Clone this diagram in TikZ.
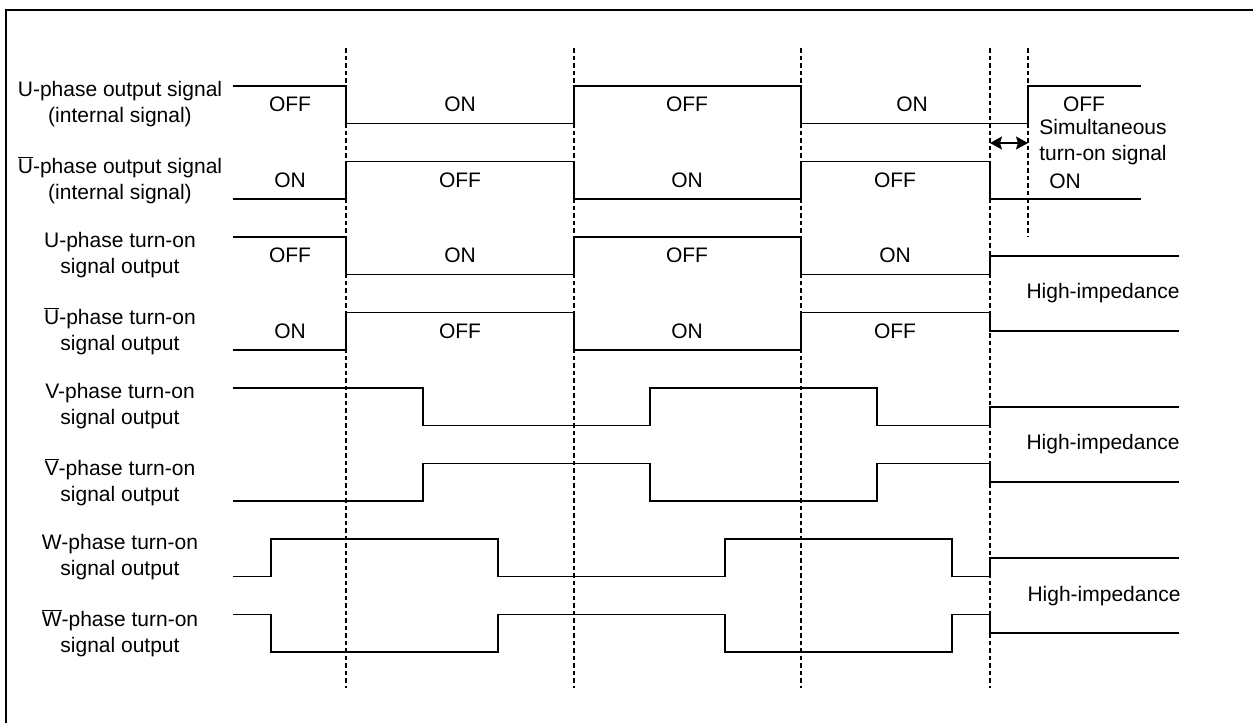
\documentclass[tikz,border=0pt]{standalone}
\usepackage{fontspec}
\setmainfont{Liberation Sans}
\usetikzlibrary{arrows.meta}
\newcommand\ovbar[1]{$\overline{\mbox{#1}}$}
\begin{document}
\begin{tikzpicture}[x=1pt,y=-1pt,
  wave/.style={line width=1.7pt,line join=miter},
  guide/.style={line width=1.1pt,dash pattern=on 4.5pt off 3pt},
  frameline/.style={line width=2pt},
  lbl/.style={font=\fontsize{21}{26}\selectfont,align=center,inner sep=0pt},
  st/.style={font=\fontsize{21}{26}\selectfont,inner sep=0pt},
  dblarrow/.style={line width=1.3pt,{Stealth[length=12pt,width=13pt,inset=2pt]}-{Stealth[length=12pt,width=13pt,inset=2pt]}}]
\useasboundingbox (0,0) rectangle (1253,723);
% frame (only top and left edges are visible)
\draw[frameline] (6,723) -- (6,10) -- (1253,10);
% guide lines
\foreach \x in {346,574,801,990} \draw[guide] (\x,48) -- (\x,688);
\coordinate (g5t) at (1028,48);
\coordinate (g5b) at (1028,237);
\draw[guide] (g5t) -- (g5b);
% waveforms
\draw[wave] (233,86) -- (346,86) -- (346,123.5) -- (574,123.5) -- (574,86) -- (801,86) -- (801,123.5) -- (1028,123.5) -- (1028,86) -- (1141,86);
\draw[wave] (233,199) -- (346,199) -- (346,161.5) -- (574,161.5) -- (574,199) -- (801,199) -- (801,161.5) -- (990,161.5) -- (990,199) -- (1141,199);
\draw[wave] (233,237) -- (346,237) -- (346,274.5) -- (574,274.5) -- (574,237) -- (801,237) -- (801,274.5) -- (990,274.5) -- (990,256) -- (1179,256);
\draw[wave] (233,350) -- (346,350) -- (346,312.5) -- (574,312.5) -- (574,350) -- (801,350) -- (801,312.5) -- (990,312.5) -- (990,331) -- (1179,331);
\draw[wave] (233,388) -- (423,388) -- (423,425.5) -- (650,425.5) -- (650,388) -- (877,388) -- (877,425.5) -- (990,425.5) -- (990,407) -- (1179,407);
\draw[wave] (233,501) -- (423,501) -- (423,463.5) -- (650,463.5) -- (650,501) -- (877,501) -- (877,463.5) -- (990,463.5) -- (990,482) -- (1179,482);
\draw[wave] (233,576.5) -- (271,576.5) -- (271,539) -- (498,539) -- (498,576.5) -- (725,576.5) -- (725,539) -- (952,539) -- (952,576.5) -- (990,576.5) -- (990,558) -- (1179,558);
\draw[wave] (233,614.5) -- (271,614.5) -- (271,652) -- (498,652) -- (498,614.5) -- (725,614.5) -- (725,652) -- (952,652) -- (952,614.5) -- (990,614.5) -- (990,633) -- (1179,633);
% left labels
\node[lbl] (l0) at (120,104.5) {U-phase output signal\\(internal signal)};
\node[lbl] (l1) at (120,180) {\ovbar{U}-phase output signal\\(internal signal)};
\node[lbl] (l2) at (120,255.5) {U-phase turn-on\\signal output};
\node[lbl] (l3) at (120,331) {\ovbar{U}-phase turn-on\\signal output};
\node[lbl] (l4) at (120,406.5) {V-phase turn-on\\signal output};
\node[lbl] (l5) at (120,482) {\ovbar{V}-phase turn-on\\signal output};
\node[lbl] (l6) at (120,557.5) {W-phase turn-on\\signal output};
\node[lbl] (l7) at (120,633) {\ovbar{W}-phase turn-on\\signal output};
% state texts
\node[st] (a1) at (290,104.5) {OFF};
\node[st] (a2) at (460,104.5) {ON};
\node[st] (a3) at (687,104.5) {OFF};
\node[st] (a4) at (912,104.5) {ON};
\node[st] (b1) at (290,180) {ON};
\node[st] (b2) at (460,180) {OFF};
\node[st] (b3) at (687,180) {ON};
\node[st] (b4) at (895,180) {OFF};
\node[st] (c1) at (290,255.5) {OFF};
\node[st] (c2) at (460,255.5) {ON};
\node[st] (c3) at (687,255.5) {OFF};
\node[st] (c4) at (895,255.5) {ON};
\node[st] (d1) at (290,331) {ON};
\node[st] (d2) at (460,331) {OFF};
\node[st] (d3) at (687,331) {ON};
\node[st] (d4) at (895,331) {OFF};
% right side texts
\node[st] (roff) at (1084,104) {OFF};
\node[lbl] (rsim) at (1103,142.5) {Simultaneous\\turn-on signal};
\node[st] (ron) at (1065,181) {ON};
\node[st] (hz1) at (1103,293.5) {High-impedance};
\node[st] (hz2) at (1103,444.5) {High-impedance};
\node[st] (hz3) at (1104,596) {High-impedance};
% simultaneous turn-on interval arrow
\coordinate (arL) at (990,143);
\coordinate (arR) at (1028,143);
\draw[dblarrow] (arL) -- (arR);
\end{tikzpicture}
\end{document}
